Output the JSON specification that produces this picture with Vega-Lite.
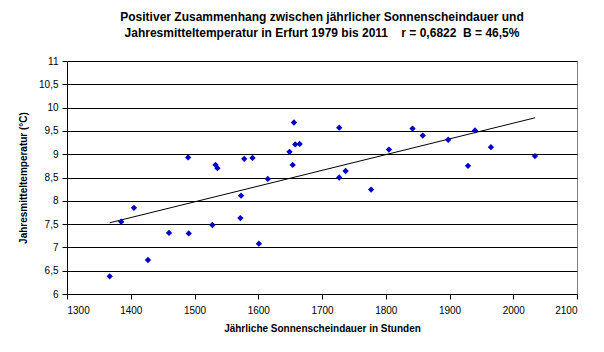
{
  "$schema": "https://vega.github.io/schema/vega-lite/v6.json",
  "width": 510,
  "height": 233,
  "autosize": {"type": "none"},
  "padding": {"left": 67, "top": 61, "right": 27, "bottom": 58},
  "background": "white",
  "title": {
    "text": ["Positiver Zusammenhang zwischen jährlicher Sonnenscheindauer und", "Jahresmitteltemperatur in Erfurt 1979 bis 2011\u00a0\u00a0\u00a0\u00a0r = 0,6822\u00a0\u00a0B = 46,5%"],
    "font": "Liberation Sans",
    "fontSize": 12,
    "fontWeight": "bold",
    "color": "#000000",
    "anchor": "middle",
    "offset": 16,
    "lineHeight": 16
  },
  "config": {
    "view": {"stroke": "#808080", "strokeWidth": 1},
    "axis": {
      "labelFont": "Liberation Sans",
      "labelFontSize": 10,
      "labelColor": "#000000",
      "titleFont": "Liberation Sans",
      "titleFontSize": 10,
      "titleFontWeight": "bold",
      "titleColor": "#000000",
      "domainColor": "#000000",
      "tickColor": "#000000",
      "tickSize": 5
    }
  },
  "data": {
    "values": [
      {"sonne": 1367, "temp": 6.38},
      {"sonne": 1385, "temp": 7.55},
      {"sonne": 1405, "temp": 7.85},
      {"sonne": 1427, "temp": 6.73},
      {"sonne": 1460, "temp": 7.31},
      {"sonne": 1490, "temp": 8.93},
      {"sonne": 1491, "temp": 7.30},
      {"sonne": 1528, "temp": 7.48},
      {"sonne": 1533, "temp": 8.77},
      {"sonne": 1536, "temp": 8.70},
      {"sonne": 1573, "temp": 8.11},
      {"sonne": 1572, "temp": 7.63},
      {"sonne": 1578, "temp": 8.90},
      {"sonne": 1591, "temp": 8.92},
      {"sonne": 1601, "temp": 7.08},
      {"sonne": 1615, "temp": 8.47},
      {"sonne": 1649, "temp": 9.05},
      {"sonne": 1654, "temp": 8.77},
      {"sonne": 1656, "temp": 9.68},
      {"sonne": 1658, "temp": 9.21},
      {"sonne": 1665, "temp": 9.22},
      {"sonne": 1727, "temp": 9.57},
      {"sonne": 1727, "temp": 8.50},
      {"sonne": 1737, "temp": 8.64},
      {"sonne": 1777, "temp": 8.24},
      {"sonne": 1805, "temp": 9.10},
      {"sonne": 1842, "temp": 9.55},
      {"sonne": 1858, "temp": 9.40},
      {"sonne": 1898, "temp": 9.31},
      {"sonne": 1929, "temp": 8.75},
      {"sonne": 1940, "temp": 9.51},
      {"sonne": 1965, "temp": 9.15},
      {"sonne": 2034, "temp": 8.96}
    ]
  },
  "encoding": {
    "x": {
      "field": "sonne", "type": "quantitative",
      "scale": {"domain": [1300, 2100], "nice": false, "zero": false},
      "axis": {"title": "Jährliche Sonnenscheindauer in Stunden", "values": [1300,1400,1500,1600,1700,1800,1900,2000,2100], "grid": false, "labelPadding": 6, "titlePadding": 8, "format": "d"}
    },
    "y": {
      "field": "temp", "type": "quantitative",
      "scale": {"domain": [6, 11], "nice": false, "zero": false},
      "axis": {"title": "Jahresmitteltemperatur (°C)", "values": [6,6.5,7,7.5,8,8.5,9,9.5,10,10.5,11], "grid": true, "gridColor": "#000000", "gridOpacity": 1, "gridWidth": 1, "labelExpr": "replace(format(datum.value, '.1~f'), '.', ',')", "labelPadding": 4, "titlePadding": 10}
    }
  },
  "layer": [
    {
      "mark": {"type": "line", "color": "#000000", "strokeWidth": 1},
      "transform": [{"regression": "temp", "on": "sonne"}]
    },
    {
      "mark": {"type": "point", "shape": "diamond", "filled": true, "size": 40, "color": "#0000CC", "opacity": 1}
    }
  ]
}
